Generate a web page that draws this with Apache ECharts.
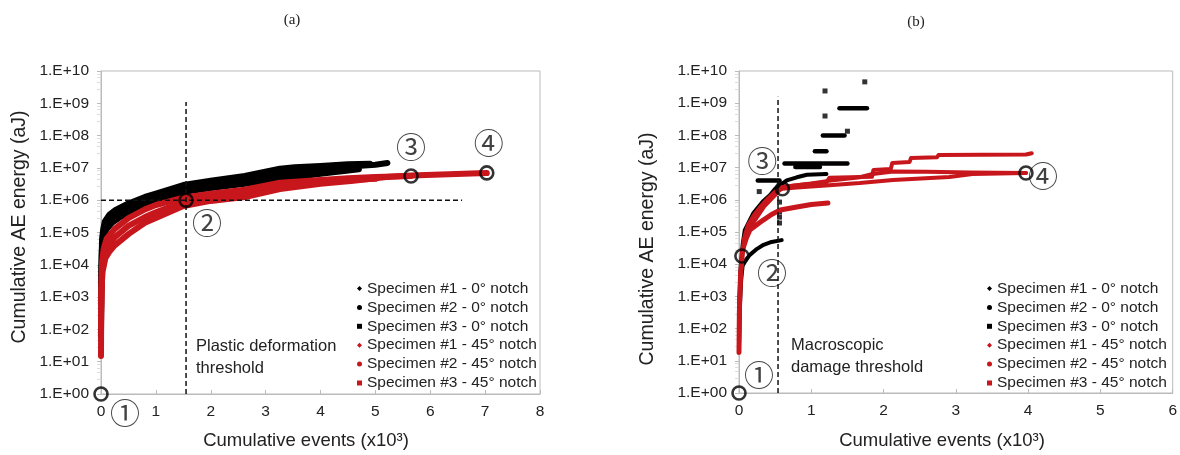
<!DOCTYPE html>
<html><head><meta charset="utf-8">
<script src="https://cdn.jsdelivr.net/npm/echarts@6/dist/echarts.min.js"></script>
<style>html,body{margin:0;padding:0;background:#fff}#c{width:1180px;height:455px}</style>
</head><body><div id="c"></div>
<script>
// ---------- names / ticks ----------
const NAMES = ['Specimen #1 - 0° notch','Specimen #2 - 0° notch','Specimen #3 - 0° notch',
               'Specimen #1 - 45° notch','Specimen #2 - 45° notch','Specimen #3 - 45° notch'];
const ICONS = ['diamond','circle','rect','diamond','circle','rect'];
const A_XMAX = 8, B_XMAX = 6;
const Y_MIN = 1, Y_MAX = 1e10;

// ---------- panel (a) ----------
const a_b1_x = [0,0.003,0.01,0.02,0.04,0.07,0.15,0.25,0.5,0.8,1.0,1.5,2.0,2.62,3.26,3.53,4.0,4.5,4.9];
const a_b1_y = [58,1.0e3,1.6e4,6.3e4,1.26e5,2.2e5,3.5e5,4.8e5,7.9e5,1.26e6,1.6e6,2.95e6,4.0e6,5.6e6,9.5e6,1.05e7,1.15e7,1.3e7,1.35e7];
const a_b2_x = [0,0.003,0.01,0.02,0.04,0.07,0.15,0.25,0.5,0.8,1.0,1.5,2.0,2.62,3.26,4.0,4.6,5.0,5.22];
const a_b2_y = [100,1.26e3,1.0e4,4.0e4,1.0e5,1.6e5,2.6e5,3.5e5,6.0e5,9.5e5,1.2e6,2.3e6,3.2e6,4.5e6,6.6e6,8.9e6,1.12e7,1.26e7,1.41e7];
const a_b3_x = [0,0.005,0.015,0.03,0.06,0.1,0.2,0.35,0.6,0.8,1.0,1.5,2.0,2.62,3.26,4.0,4.7];
const a_b3_y = [160,1.6e3,1.0e4,3.2e4,7.9e4,1.26e5,2.0e5,3.0e5,5.0e5,7.1e5,8.9e5,1.8e6,2.4e6,3.2e6,4.5e6,6.6e6,9.0e6];
const a_r1_x = [0,0.003,0.01,0.02,0.05,0.1,0.25,0.5,0.8,1.0,1.5,2.0,2.62,3.26,4.0,4.5,5.0,5.65];
const a_r1_y = [15,320,3.2e3,1.26e4,3.2e4,6.3e4,1.3e5,2.8e5,5.2e5,7.1e5,1.2e6,1.6e6,2.1e6,3.5e6,4.2e6,4.8e6,5.2e6,5.6e6];
const a_r2_x = [0,0.005,0.02,0.05,0.1,0.25,0.5,0.8,1.0,1.5,2.0,2.62,3.26,4.0,4.5,5.0];
const a_r2_y = [100,1.0e3,7.9e3,2.0e4,3.5e4,7.1e4,1.6e5,3.0e5,4.2e5,8.9e5,1.2e6,1.66e6,2.8e6,3.5e6,4.2e6,4.6e6];
const a_r3_x = [0,0.01,0.03,0.08,0.15,0.25,0.5,0.8,1.0,1.5,2.0,2.62,3.26,4.0,4.6,5.2,5.65,6.2,7.03];
const a_r3_y = [320,2.0e3,6.3e3,1.6e4,2.5e4,4.0e4,8.9e4,2.0e5,2.8e5,6.6e5,9.5e5,1.26e6,2.2e6,3.2e6,4.0e6,5.2e6,5.8e6,6.3e6,6.9e6];
const a_vline_x = [1.55,1.55], a_vline_y = [1,1.1e9];
const a_hline_x = [0,6.58],    a_hline_y = [1e6,1e6];
const a_circ_x = [0,1.55,5.65,7.03];
const a_circ_y = [1,1e6,5.6e6,7.0e6];
const a_circ_lbl = ['①','②','③','④'];

// ---------- panel (b) ----------
const b_b1_x = [0,0.01,0.03,0.05,0.1,0.15,0.25,0.34,0.45,0.59];
const b_b1_y = [32,400,3.2e3,8.9e3,1.4e4,1.95e4,3.0e4,4.0e4,4.9e4,5.6e4];
const b_b2_x = [0,0.005,0.02,0.05,0.08,0.2,0.33,0.43,0.5,0.57,0.66,0.8,0.94,1.21];
const b_b2_y = [32,630,6.3e3,4.0e4,1.15e5,3.9e5,8.9e5,1.4e6,2.2e6,2.8e6,4.0e6,5.0e6,6.0e6,6.3e6];
const b_b3_seg_x0 = [0.26,0.63,0.78,1.05,1.16,1.39];
const b_b3_seg_x1 = [0.56,1.50,1.12,1.21,1.46,1.77];
const b_b3_seg_y  = [4.0e6,1.35e7,1.05e7,3.2e7,1.0e8,7.0e8];
const b_b3_dot_x = [0.28,1.50,1.19,1.19,1.74,0.56,0.56,0.56,0.56];
const b_b3_dot_y = [1.8e6,1.35e8,4.0e8,2.4e9,4.6e9,8.5e5,4.2e5,2.9e5,1.9e5];
const b_r1_x = [0,0.005,0.02,0.05,0.1,0.15,0.33,0.45,0.57,0.8,1.0,1.23];
const b_r1_y = [18,320,4.0e3,2.8e4,6.3e4,1.15e5,2.3e5,3.5e5,4.8e5,6.0e5,7.1e5,7.9e5];
const b_r2_x = [0,0.005,0.02,0.04,0.07,0.12,0.2,0.3,0.4,0.5,0.6,0.8,1.2,1.67,2.13,2.91,3.23,3.6,3.97];
const b_r2_y = [25,320,3.2e3,1.8e4,6.3e4,1.6e5,3.2e5,6.3e5,1.1e6,1.8e6,2.2e6,2.4e6,2.8e6,3.3e6,4.1e6,5.1e6,6.3e6,6.6e6,6.8e6];
const b_r2b_x = [0.6,1.0,1.21,1.67,1.85,2.13,2.6,3.2,3.97];
const b_r2b_y = [2.5e6,3.2e6,3.8e6,5.0e6,6.3e6,7.6e6,7.4e6,7.1e6,6.8e6];
const b_r3_x = [0,0.005,0.02,0.05,0.1,0.2,0.35,0.5,0.6,0.9,1.21,1.25,1.84,1.86,2.1,2.12,2.36,2.38,2.74,2.76,3.97,4.05];
const b_r3_y = [20,400,5.0e3,2.5e4,7.9e4,2.0e5,6.3e5,1.4e6,2.5e6,3.0e6,3.5e6,4.8e6,5.2e6,8.5e6,9.1e6,1.4e7,1.5e7,2.0e7,2.1e7,2.45e7,2.55e7,2.8e7];
const b_vline_x = [0.54,0.54], b_vline_y = [1,1.6e9];
const b_circ_x = [0,0.04,0.6,3.97];
const b_circ_y = [1,1.8e4,2.2e6,6.8e6];
const b_circ_lbl = ['①','②','③','④'];

// ---------- build ----------
const FONT = '"Liberation Sans", Arial, sans-serif';
const BLACK = '#000', RED = '#c8161d';
const zip = (xs, ys) => xs.map((x, i) => [x, ys[i]]);

function lineS(name, gi, xs, ys, color, width, z) {
  return {name, type:'line', xAxisIndex:gi, yAxisIndex:gi, data:zip(xs, ys),
    symbol:'none', showSymbol:false, silent:true, z:z||2,
    lineStyle:{color, width, cap:'round', join:'round'}, itemStyle:{color}};
}
function dashS(gi, xs, ys) {
  return {type:'line', xAxisIndex:gi, yAxisIndex:gi, data:zip(xs, ys), symbol:'none',
    silent:true, z:5, lineStyle:{color:'#111', width:1.5, type:[5,3]}};
}
function circS(gi, xs, ys, lbls, offs) {
  return {type:'scatter', xAxisIndex:gi, yAxisIndex:gi, z:6, clip:false, silent:true,
    symbol:'circle', symbolSize:13,
    itemStyle:{color:'rgba(0,0,0,0)', borderColor:'#000', borderWidth:2.6},
    data: xs.map((x, i) => ({value:[x, ys[i]], label:{show:true, position:'inside',
      formatter:lbls[i], offset:offs[i], fontSize:30, color:'#111',
      fontFamily:'"Noto Sans CJK JP", "DejaVu Sans", sans-serif'}}))};
}

const series = [
  lineS(NAMES[0], 0, a_b1_x, a_b1_y, BLACK, 6),
  lineS(NAMES[1], 0, a_b2_x, a_b2_y, BLACK, 6),
  lineS(NAMES[2], 0, a_b3_x, a_b3_y, BLACK, 6),
  lineS(NAMES[3], 0, a_r1_x, a_r1_y, RED, 6, 3),
  lineS(NAMES[4], 0, a_r2_x, a_r2_y, RED, 6, 3),
  lineS(NAMES[5], 0, a_r3_x, a_r3_y, RED, 6, 3),
  dashS(0, a_vline_x, a_vline_y),
  dashS(0, a_hline_x, a_hline_y),
  circS(0, a_circ_x, a_circ_y, a_circ_lbl, [[24,19],[21,22],[0,-29],[2,-30]]),

  lineS(NAMES[0], 1, b_b1_x, b_b1_y, BLACK, 4),
  lineS(NAMES[1], 1, b_b2_x, b_b2_y, BLACK, 4),
];
b_b3_seg_y.forEach((y, i) => series.push(
  lineS(NAMES[2], 1, [b_b3_seg_x0[i], b_b3_seg_x1[i]], [y, y], BLACK, 4.5)));
series.push({name:NAMES[2], type:'scatter', xAxisIndex:1, yAxisIndex:1, silent:true, z:2,
  symbol:'rect', symbolSize:5, itemStyle:{color:BLACK}, data:zip(b_b3_dot_x, b_b3_dot_y)});
series.push(
  lineS(NAMES[3], 1, b_r1_x, b_r1_y, RED, 5, 3),
  lineS(NAMES[4], 1, b_r2_x, b_r2_y, RED, 4, 3),
  lineS(NAMES[4], 1, b_r2b_x, b_r2b_y, RED, 4, 3),
  lineS(NAMES[5], 1, b_r3_x, b_r3_y, RED, 4, 3),
  dashS(1, b_vline_x, b_vline_y),
  circS(1, b_circ_x, b_circ_y, b_circ_lbl, [[20,-18],[30,17],[-20,-28],[17,3]])
);

function xAx(gi, max) {
  return {type:'value', gridIndex:gi, min:0, max, interval:1,
    axisLine:{show:true, onZero:false, lineStyle:{color:'#bbb'}},
    axisTick:{show:true, inside:true, length:4, lineStyle:{color:'#bbb'}},
    splitLine:{show:false},
    axisLabel:{fontSize:15.5, color:'#222', fontFamily:FONT, margin:10}};
}
function yAx(gi) {
  return {type:'log', logBase:10, gridIndex:gi, min:Y_MIN, max:Y_MAX, interval:1,
    axisLine:{show:true, onZero:false, lineStyle:{color:'#bbb'}},
    axisTick:{show:true, length:4, lineStyle:{color:'#bbb'}},
    minorTick:{show:true, splitNumber:5, length:4, lineStyle:{color:'#ddd'}},
    splitLine:{show:false},
    axisLabel:{fontSize:15.5, color:'#222', fontFamily:FONT, margin:12,
      formatter: v => '1.E+' + String(Math.round(Math.log10(v))).padStart(2,'0')}};
}
function legend(left) {
  return {orient:'vertical', left, top:275.5, itemWidth:5, itemHeight:5, itemGap:2.9,
    selectedMode:false, textStyle:{fontSize:15.5, lineHeight:15.2, color:'#222', fontFamily:FONT},
    data: NAMES.map((n, i) => ({name:n, icon:ICONS[i]}))};
}
const txt = (x, y, text, size, extra) => ({type:'text', x, y, silent:true,
  style:Object.assign({text, fill:'#222', font:size + 'px "Liberation Sans", Arial, sans-serif'}, extra || {})});

const chart = echarts.init(document.getElementById('c'), null, {renderer:'canvas'});
chart.setOption({
  animation:false,
  backgroundColor:'#fff',
  grid:[
    {left:101, right:640, top:71, bottom:61, show:true, borderColor:'#bbb', borderWidth:1},
    {left:739, right:6, top:71, bottom:62, show:true, borderColor:'#bbb', borderWidth:1}
  ],
  xAxis:[xAx(0, A_XMAX), xAx(1, B_XMAX)],
  yAxis:[yAx(0), yAx(1)],
  legend:[legend(352), legend(982)],
  series,
  graphic:[
    {type:'text', x:292, y:20, silent:true, style:{text:'(a)', fill:'#222', font:'15px "Liberation Serif", serif', textAlign:'center', textVerticalAlign:'middle'}},
    {type:'text', x:916, y:22, silent:true, style:{text:'(b)', fill:'#222', font:'15px "Liberation Serif", serif', textAlign:'center', textVerticalAlign:'middle'}},
    txt(306, 441, 'Cumulative events (x10³)', 18.5, {textAlign:'center', textVerticalAlign:'middle'}),
    txt(942, 441, 'Cumulative events (x10³)', 18.5, {textAlign:'center', textVerticalAlign:'middle'}),
    Object.assign(txt(0, 0, 'Cumulative AE energy (aJ)', 19.5, {textAlign:'center', textVerticalAlign:'middle'}), {x:20, y:227, rotation:Math.PI/2}),
    Object.assign(txt(0, 0, 'Cumulative AE energy (aJ)', 19.5, {textAlign:'center', textVerticalAlign:'middle'}), {x:648, y:249, rotation:Math.PI/2}),
    txt(196, 335, 'Plastic deformation\nthreshold', 16.5, {lineHeight:22}),
    txt(791, 334, 'Macroscopic\ndamage threshold', 16.5, {lineHeight:22})
  ]
});
</script>
</body></html>
